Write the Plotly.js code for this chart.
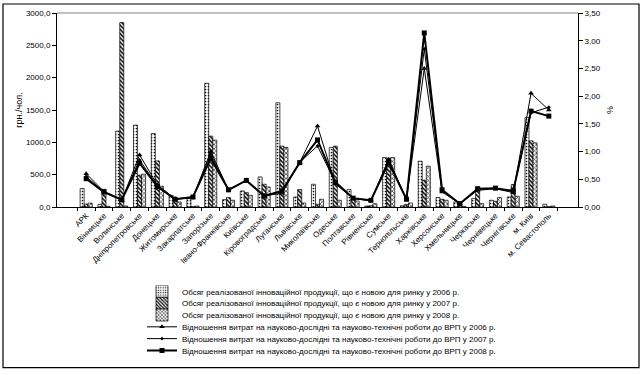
<!DOCTYPE html>
<html><head><meta charset="utf-8">
<script src="https://cdn.plot.ly/plotly-3.0.1.min.js"></script>
<style>body{margin:0;background:#fff}#c{width:643px;height:375px}</style>
</head><body><div id="c"></div>
<script>
const categories = ["АРК","Вінницьке","Волинське","Дніпропетровське","Донецьке","Житомирське","Закарпатське","Запорізьке","Івано-Франківське","Київське","Кіровоградське","Луганське","Львівське","Миколаївське","Одеське","Полтавське","Рівненське","Сумське","Тернопільське","Харківське","Херсонське","Хмельницьке","Черкаське","Чернівецьке","Чернігівське","м. Київ","м. Севастополь"];
const v2006 = [285, 40, 1173, 1266, 1137, 181, 130, 1913, 115, 248, 465, 1612, 155, 352, 920, 270, 15, 765, 20, 708, 146, 78, 130, 104, 155, 1385, 42];
const v2007 = [45, 274, 2852, 491, 713, 130, 5, 1096, 146, 223, 352, 941, 270, 42, 941, 130, 20, 750, 40, 414, 119, 20, 300, 88, 347, 1023, 3];
const v2008 = [60, 10, 15, 507, 321, 78, 15, 1034, 104, 181, 310, 920, 62, 119, 104, 93, 50, 765, 62, 631, 104, 10, 52, 146, 166, 992, 15];
const r2006 = [0.60, 0.28, 0.12, 0.94, 0.40, 0.15, 0.17, 1.00, 0.31, 0.48, 0.20, 0.25, 0.80, 1.46, 0.42, 0.15, 0.12, 0.86, 0.13, 2.50, 0.27, 0.06, 0.30, 0.33, 0.26, 2.05, 1.75];
const r2007 = [0.55, 0.27, 0.13, 0.85, 0.38, 0.14, 0.17, 0.95, 0.30, 0.48, 0.21, 0.27, 0.81, 1.10, 0.44, 0.16, 0.11, 0.85, 0.14, 2.85, 0.30, 0.06, 0.32, 0.34, 0.28, 1.70, 1.80];
const r2008 = [0.51, 0.27, 0.13, 0.79, 0.37, 0.14, 0.18, 0.88, 0.31, 0.48, 0.20, 0.29, 0.80, 1.21, 0.45, 0.16, 0.12, 0.80, 0.14, 3.14, 0.31, 0.06, 0.33, 0.34, 0.29, 1.73, 1.64];
const leftTicks = [0, 500, 1000, 1500, 2000, 2500, 3000];
const leftTickText = ["0,0","500,0","1000,0","1500,0","2000,0","2500,0","3000,0"];
const rightTicks = [0, 0.5, 1, 1.5, 2, 2.5, 3, 3.5];
const rightTickText = ["0,00","0,50","1,00","1,50","2,00","2,50","3,00","3,50"];
const barNames = ["Обсяг реалізованої інноваційної продукції, що є новою для ринку у 2006 р.","Обсяг реалізованої інноваційної продукції, що є новою для ринку у 2007 р.","Обсяг реалізованої інноваційної продукції, що є новою для ринку у 2008 р."];
const lineNames = ["Відношення витрат на науково-дослідні та науково-технічні роботи до ВРП у 2006 р.","Відношення витрат на науково-дослідні та науково-технічні роботи до ВРП у 2007 р.","Відношення витрат на науково-дослідні та науково-технічні роботи до ВРП у 2008 р."];

const patterns = [
  {shape: ".", fgcolor: "#000", bgcolor: "#fff", size: 3, solidity: 0.25},
  {shape: "\\", fgcolor: "#000", bgcolor: "#fff", size: 3, solidity: 0.5},
  {shape: "x", fgcolor: "#000", bgcolor: "#fff", size: 3, solidity: 0.35}
];
const barVals = [v2006, v2007, v2008];
const traces = [];
barVals.forEach((v, i) => traces.push({
  type: "bar", x: categories, y: v, name: barNames[i],
  marker: {color: "#fff", pattern: patterns[i], line: {color: "#000", width: 0.7}}
}));
const lineVals = [r2006, r2007, r2008];
const lineStyle = [
  {sym: "triangle-up", size: 5, w: 1},
  {sym: "diamond", size: 3, w: 1},
  {sym: "square", size: 5, w: 2}
];
lineVals.forEach((v, i) => traces.push({
  type: "scatter", mode: "lines+markers", x: categories, y: v, yaxis: "y2", name: lineNames[i],
  line: {color: "#000", width: lineStyle[i].w},
  marker: {symbol: lineStyle[i].sym, size: lineStyle[i].size, color: "#000"}
}));

const L = 57, R = 578, T = 13, B = 206.7, W = 643, H = 375;
const px = p => (p - L) / (R - L);
const py = p => (B - p) / (B - T);
const font = {family: "Liberation Sans, Arial, sans-serif", size: 8, color: "#000"};
const layout = {
  width: W, height: H,
  margin: {l: L, r: W - R, t: T, b: H - B, autoexpand: false},
  paper_bgcolor: "#fff", plot_bgcolor: "#fff",
  font: font,
  barmode: "group", bargap: 0.32, bargroupgap: 0,
  showlegend: true,
  legend: {x: px(142), y: py(285), xanchor: "left", yanchor: "top", font: {family: font.family, size: 8, color: "#000"}, bgcolor: "rgba(0,0,0,0)", traceorder: "normal"},
  xaxis: {type: "category", tickson: "boundaries", ticks: "outside", ticklen: 3, tickcolor: "#000", tickangle: -45,
    showline: true, linecolor: "#000", linewidth: 1, showgrid: false, zeroline: false, tickfont: font, automargin: false},
  yaxis: {range: [0, 3000], tickvals: leftTicks, ticktext: leftTickText, ticks: "outside", ticklen: 4, tickcolor: "#000",
    showline: true, linecolor: "#000", linewidth: 1, showgrid: false, zeroline: false, tickfont: font, automargin: false,
    title: {text: "грн./чол.", font: {family: font.family, size: 9, color: "#000"}, standoff: 1}},
  yaxis2: {range: [0, 3.5], overlaying: "y", side: "right", tickvals: rightTicks, ticktext: rightTickText, ticks: "outside", ticklen: 4, tickcolor: "#000",
    showline: true, linecolor: "#000", linewidth: 1, showgrid: false, zeroline: false, tickfont: font, automargin: false,
    title: {text: "%", font: {family: font.family, size: 9, color: "#000"}, standoff: 6}},
  shapes: [
    {type: "line", xref: "paper", yref: "paper", x0: 0, x1: 1, y0: 1, y1: 1, line: {color: "#808080", width: 1}},
    {type: "rect", xref: "paper", yref: "paper", x0: px(3), x1: px(639), y0: py(4), y1: py(367), line: {color: "#000", width: 1.2}, fillcolor: "rgba(0,0,0,0)"}
  ]
};
Plotly.newPlot("c", traces, layout, {staticPlot: true}).then(gd => {
  const items = gd.querySelectorAll(".legend .traces");
  const y0 = 6, step = 11.8;
  items.forEach((g, i) => {
    const m = /translate\(([-\d.]+)[ ,]+([-\d.]+)\)/.exec(g.getAttribute("transform") || "");
    const x = m ? parseFloat(m[1]) : 0;
    g.setAttribute("transform", "translate(" + x + "," + (y0 + i * step) + ")");
  });
});
</script></body></html>
